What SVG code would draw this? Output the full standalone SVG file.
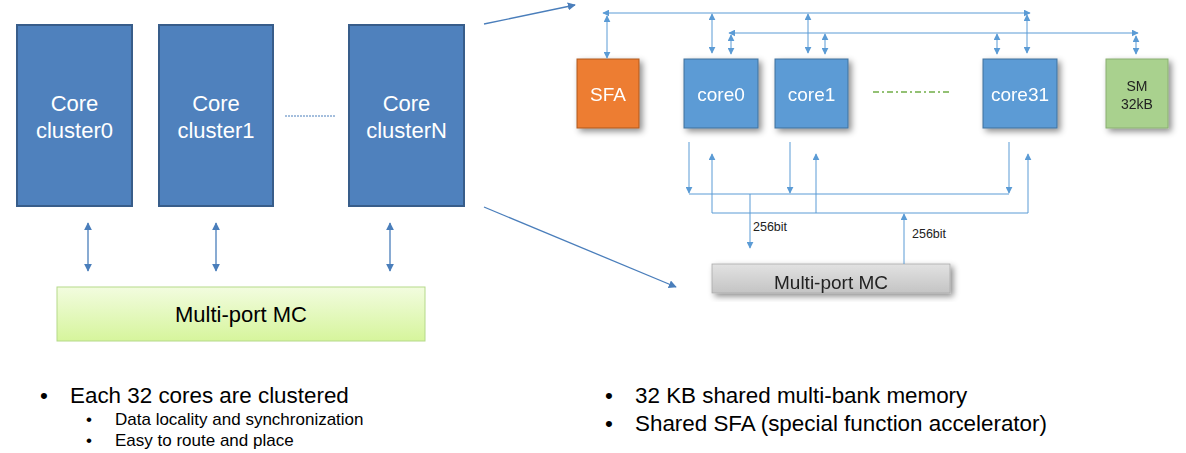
<svg xmlns="http://www.w3.org/2000/svg" width="1186" height="453" viewBox="0 0 1186 453">
<style>
text{font-family:"Liberation Sans",Arial,sans-serif}
.cl{fill:#4f81bd;stroke:#385d8a;stroke-width:2}
.clt{fill:#fff;font-size:22px;text-anchor:middle}
.la{stroke:#4a7ebb;stroke-width:1.3;fill:none}
.ra{stroke:#5b9bd5;stroke-width:1;fill:none}
.core{fill:#5b9bd5;stroke:#41719c;stroke-width:1}
.ct{fill:#fff;font-size:19px;text-anchor:middle}
.b1{fill:#000;font-size:22.4px}
.b2{fill:#000;font-size:17px}
.lbl{fill:#222;font-size:12.5px}
</style>
<defs>
<marker id="ah" viewBox="0 0 10 10" refX="9" refY="5" markerWidth="7" markerHeight="7" markerUnits="userSpaceOnUse" orient="auto-start-reverse"><path d="M0,0 L10,5 L0,10 z" fill="#5b9bd5"/></marker>
<marker id="ahl" viewBox="0 0 10 10" refX="9" refY="5" markerWidth="8" markerHeight="8" markerUnits="userSpaceOnUse" orient="auto-start-reverse"><path d="M0,0 L10,5 L0,10 z" fill="#4a7ebb"/></marker>
<linearGradient id="gg" x1="0" y1="0" x2="0" y2="1"><stop offset="0" stop-color="#f2fcdf"/><stop offset="1" stop-color="#d6f59c"/></linearGradient>
<linearGradient id="gr" x1="0" y1="0" x2="0" y2="1"><stop offset="0" stop-color="#e2e2e2"/><stop offset="1" stop-color="#c4c4c4"/></linearGradient>
<filter id="sh" x="-20%" y="-20%" width="150%" height="150%"><feDropShadow dx="3" dy="3" stdDeviation="3" flood-color="#000" flood-opacity="0.45"/></filter>
</defs>

<g id="cluster0"><rect class="cl" x="17" y="25" width="115" height="181"/><text class="clt" x="74.5" y="111">Core</text><text class="clt" x="74.5" y="138">cluster0</text></g>
<g id="cluster1"><rect class="cl" x="159" y="25" width="114" height="181"/><text class="clt" x="216" y="111">Core</text><text class="clt" x="216" y="138">cluster1</text></g>
<g id="clusterN"><rect class="cl" x="349" y="25" width="115" height="181"/><text class="clt" x="406.5" y="111">Core</text><text class="clt" x="406.5" y="138">clusterN</text></g>
<g id="mc-left"><rect x="57" y="287" width="368" height="54" fill="url(#gg)" stroke="#b5d98a" stroke-width="1"/><text x="241" y="322" font-size="22" text-anchor="middle" fill="#000">Multi-port MC</text></g>

<g id="sfa" filter="url(#sh)"><rect x="577" y="59" width="62" height="69" fill="#ed7d31" stroke="#ae5a21"/><text class="ct" x="608" y="101">SFA</text></g>
<g id="core0" filter="url(#sh)"><rect class="core" x="684" y="59" width="74" height="69"/><text class="ct" x="721" y="101">core0</text></g>
<g id="core1" filter="url(#sh)"><rect class="core" x="775" y="59" width="73" height="69"/><text class="ct" x="811.5" y="101">core1</text></g>
<g id="core31" filter="url(#sh)"><rect class="core" x="983" y="59" width="74" height="69"/><text class="ct" x="1020" y="101">core31</text></g>
<g id="sm" filter="url(#sh)"><rect x="1106" y="59" width="62" height="69" fill="#a9d18e" stroke="#8aae73"/><text x="1137" y="91" font-size="14" text-anchor="middle" fill="#222">SM</text><text x="1137" y="109" font-size="14" text-anchor="middle" fill="#222">32kB</text></g>
<g id="mc-right" filter="url(#sh)"><rect x="712" y="264" width="238" height="29" fill="url(#gr)" stroke="#aaa" stroke-width="0.8"/><text x="831" y="289" font-size="19" text-anchor="middle" fill="#222">Multi-port MC</text></g>

<g id="connectors">
<line x1="285" y1="116" x2="335" y2="116" stroke="#4a7ebb" stroke-width="1" stroke-dasharray="2,1"/>
<line class="la" x1="88" y1="223" x2="88" y2="271" marker-start="url(#ahl)" marker-end="url(#ahl)"/>
<line class="la" x1="216" y1="223" x2="216" y2="271" marker-start="url(#ahl)" marker-end="url(#ahl)"/>
<line class="la" x1="390" y1="223" x2="390" y2="271" marker-start="url(#ahl)" marker-end="url(#ahl)"/>
<line class="la" x1="484" y1="24" x2="575" y2="5" marker-end="url(#ahl)"/>
<line class="la" x1="484" y1="207" x2="676" y2="287" marker-end="url(#ahl)"/>

<line x1="873" y1="92" x2="950" y2="92" stroke="#70ad47" stroke-width="1.3" stroke-dasharray="6,3,2,3"/>

<line class="ra" x1="603" y1="13" x2="1030" y2="13" marker-start="url(#ah)" marker-end="url(#ah)"/>
<line class="ra" x1="607" y1="16" x2="607" y2="58" marker-start="url(#ah)" marker-end="url(#ah)"/>
<line class="ra" x1="712" y1="14" x2="712" y2="53" marker-start="url(#ah)" marker-end="url(#ah)"/>
<line class="ra" x1="808" y1="14" x2="808" y2="53" marker-start="url(#ah)" marker-end="url(#ah)"/>
<line class="ra" x1="1027" y1="15" x2="1027" y2="53" marker-start="url(#ah)" marker-end="url(#ah)"/>

<line class="ra" x1="729" y1="33" x2="1138" y2="33" marker-start="url(#ah)" marker-end="url(#ah)"/>
<line class="ra" x1="731" y1="35" x2="731" y2="54" marker-start="url(#ah)" marker-end="url(#ah)"/>
<line class="ra" x1="825" y1="34" x2="825" y2="54" marker-start="url(#ah)" marker-end="url(#ah)"/>
<line class="ra" x1="997" y1="34" x2="997" y2="54" marker-start="url(#ah)" marker-end="url(#ah)"/>
<line class="ra" x1="1136" y1="36" x2="1136" y2="54" marker-start="url(#ah)" marker-end="url(#ah)"/>

<line class="ra" x1="689" y1="142" x2="689" y2="193" marker-end="url(#ah)"/>
<line class="ra" x1="790" y1="142" x2="790" y2="193" marker-end="url(#ah)"/>
<line class="ra" x1="1009" y1="142" x2="1009" y2="193" marker-end="url(#ah)"/>
<polyline class="ra" points="689,194 1009,194"/>
<line class="ra" x1="712" y1="213" x2="712" y2="154" marker-end="url(#ah)"/>
<line class="ra" x1="816" y1="213" x2="816" y2="154" marker-end="url(#ah)"/>
<line class="ra" x1="1028" y1="213" x2="1028" y2="154" marker-end="url(#ah)"/>
<polyline class="ra" points="712,213 1028,213"/>
<line class="ra" x1="750" y1="194" x2="750" y2="248" marker-end="url(#ah)"/>
<line class="ra" x1="904" y1="264" x2="904" y2="214" marker-end="url(#ah)"/>
<text class="lbl" x="753" y="231">256bit</text>
<text class="lbl" x="912" y="238">256bit</text>
</g>

<g id="bullets">
<text class="b1" x="40" y="403">•</text><text class="b1" x="70" y="403">Each 32 cores are clustered</text>
<text class="b2" x="86" y="425">•</text><text class="b2" x="115" y="425">Data locality and synchronization</text>
<text class="b2" x="86" y="446">•</text><text class="b2" x="115" y="446">Easy to route and place</text>
<text class="b1" x="605" y="403">•</text><text class="b1" x="635" y="403">32 KB shared multi-bank memory</text>
<text class="b1" x="605" y="431">•</text><text class="b1" x="635" y="431">Shared SFA (special function accelerator)</text>
</g>
</svg>
